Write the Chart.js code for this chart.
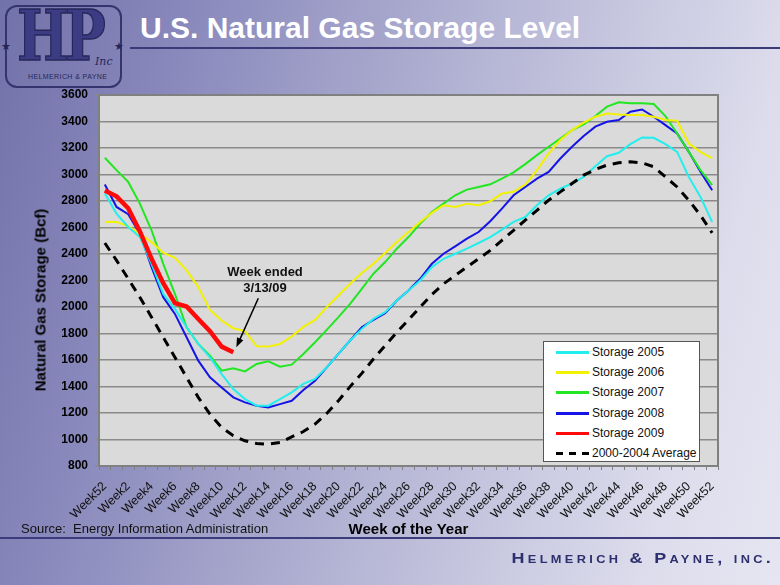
<!DOCTYPE html>
<html>
<head>
<meta charset="utf-8">
<script src="https://cdn.jsdelivr.net/npm/chart.js@4.4.1/dist/chart.umd.min.js"></script>
<style>
  html, body { margin: 0; padding: 0; }
  body {
    width: 780px; height: 585px; position: relative; overflow: hidden;
    font-family: "Liberation Sans", Arial, sans-serif;
    background: linear-gradient(105deg, #7272aa 0%, #8888bc 20%, #a6a6cc 42%, #c4c4de 65%, #dcdcec 85%, #e6e6f2 100%);
  }
  #chart { position: absolute; left: 0; top: 0; }
  .abs { position: absolute; white-space: pre; }
  #title { left: 140px; top: 13px; font-size: 30px; line-height: 1; font-weight: bold; color: #fff; }
  #titleLine { left: 130px; top: 47px; width: 650px; height: 2px; background: #3a3a78; }
  #footLine { left: 0; top: 537px; width: 780px; height: 2px; background: #3c3c7c; }
  #source { left: 21px; top: 521px; font-size: 13px; color: #111; }
  #company { right: 6px; top: 550px; font-size: 14px; font-weight: bold; font-variant: small-caps; letter-spacing: 2.6px;
             color: #2d2f6e; transform: scaleX(1.28); transform-origin: right center; }
  #yTitle { left: 40px; top: 300px; width: 0; height: 0; }
  #yTitle span { position: absolute; left: 0; top: 0; transform: translate(-50%, -50%) rotate(-90deg);
                 font-size: 15px; font-weight: bold; color: #000; white-space: pre; }
  #note { left: 215px; top: 264px; width: 100px; text-align: center; font-size: 13px; line-height: 16px; font-weight: bold; color: #111; }
  #legend { left: 543px; top: 341px; width: 155px; height: 119px; background: #fff; border: 1.5px solid #555; }
  .row { position: absolute; left: 12px; height: 20px; font-size: 12px; color: #111; }
  .swatch { position: absolute; left: 0; top: 9px; width: 33px; height: 3px; }
  .lbl { position: absolute; left: 36px; top: 3px; white-space: pre; }
  #logo { left: 5px; top: 5px; width: 113px; height: 79px; border: 2.5px solid #34346e; border-radius: 12px; }
  #logoHP { left: 17px; top: 1px; font-family: "DejaVu Serif", serif; font-weight: bold; font-size: 70px; line-height: 1;
            color: #3c3c84; -webkit-text-stroke: 1.5px #26265a; letter-spacing: -5px; transform: scaleX(0.78); transform-origin: left top; }
  #logoInc { left: 95px; top: 55px; font-family: "DejaVu Serif", serif; font-style: italic; font-size: 11px; color: #26265a; }
  #logoName { left: 28px; top: 73px; font-size: 7px; color: #26265a; letter-spacing: 0.4px; }
  .star { font-size: 11px; color: #26265a; top: 40px; }
</style>
</head>
<body>
<div id="logo" class="abs"></div>
<div id="logoHP" class="abs">HP</div>
<div id="logoInc" class="abs">Inc</div>
<div id="logoName" class="abs">HELMERICH &amp; PAYNE</div>
<div class="abs star" style="left:1px">★</div>
<div class="abs star" style="left:114px">★</div>
<div id="title" class="abs">U.S. Natural Gas Storage Level</div>
<div id="titleLine" class="abs"></div>
<canvas id="chart" width="780" height="585"></canvas>
<div id="yTitle" class="abs"><span>Natural Gas Storage (Bcf)</span></div>
<div id="note" class="abs">Week ended
3/13/09</div>
<div id="legend" class="abs"></div>
<div id="source" class="abs">Source:  Energy Information Administration</div>
<div id="footLine" class="abs"></div>
<div id="company" class="abs">Helmerich &amp; Payne, inc.</div>
<script>
// --- DATA ---
const weeks = ["Week52"];
for (let w = 1; w <= 52; w++) weeks.push("Week" + w);

const yTicks = [800, 1000, 1200, 1400, 1600, 1800, 2000, 2200, 2400, 2600, 2800, 3000, 3200, 3400, 3600];

const storage2005 = [2856, 2705, 2604, 2528, 2326, 2099, 1986, 1847, 1721, 1620, 1494, 1381, 1305, 1255, 1255, 1305, 1356, 1420,
    1457, 1545, 1646, 1747, 1835, 1910, 1961, 2049, 2124, 2200, 2301, 2364, 2402, 2440, 2483, 2528, 2584, 2642,
    2679, 2768, 2843, 2894, 2932, 2982, 3063, 3138, 3164, 3229, 3280, 3277, 3229, 3171, 2982, 2831, 2642];

const storage2006 = [2642, 2642, 2609, 2553, 2490, 2410, 2372, 2276, 2150, 1978, 1898, 1840, 1817, 1703, 1701, 1721, 1777, 1850,
    1903, 1999, 2087, 2175, 2256, 2326, 2407, 2490, 2566, 2642, 2710, 2768, 2755, 2780, 2768, 2798, 2856, 2869,
    2924, 3033, 3159, 3260, 3335, 3391, 3436, 3461, 3453, 3449, 3449, 3436, 3411, 3406, 3234, 3171, 3121];

const storage2007 = [3126, 3033, 2944, 2780, 2579, 2326, 2099, 1847, 1721, 1633, 1519, 1537, 1514, 1570, 1590, 1550, 1565, 1645,
    1734, 1827, 1923, 2024, 2137, 2251, 2339, 2440, 2528, 2629, 2717, 2780, 2843, 2886, 2906, 2926, 2969, 3016,
    3078, 3146, 3209, 3272, 3335, 3378, 3441, 3512, 3545, 3537, 3537, 3532, 3441, 3310, 3171, 3033, 2919];

const storage2008 = [2924, 2755, 2700, 2553, 2301, 2074, 1948, 1772, 1595, 1469, 1393, 1318, 1280, 1255, 1242, 1267, 1292, 1374,
    1444, 1545, 1646, 1747, 1847, 1903, 1953, 2049, 2124, 2213, 2326, 2402, 2458, 2516, 2566, 2647, 2743, 2843,
    2906, 2969, 3020, 3121, 3209, 3290, 3361, 3398, 3411, 3474, 3491, 3436, 3373, 3310, 3171, 3020, 2881];

const storage2009 = [2880, 2835, 2745, 2570, 2364, 2180, 2029, 2004, 1910, 1817, 1701, 1658];

const avg2000_2004 = [2483, 2352, 2213, 2074, 1923, 1772, 1620, 1469, 1318, 1192, 1091, 1028, 990, 970, 965, 977, 1020, 1060,
    1116, 1197, 1293, 1399, 1499, 1608, 1709, 1809, 1903, 1999, 2094, 2175, 2238, 2301, 2364, 2427, 2503, 2579,
    2655, 2730, 2806, 2869, 2932, 2995, 3038, 3071, 3088, 3096, 3088, 3058, 2982, 2906, 2806, 2692, 2559];

const seriesNames = ["Storage 2005", "Storage 2006", "Storage 2007", "Storage 2008", "Storage 2009", "2000-2004 Average"];
const seriesColors = ["#22eeee", "#f2f200", "#22e622", "#1414e6", "#ff0a0a", "#000000"];

// --- DATASETS ---
const FONT = "'Liberation Sans', Arial, sans-serif";
const allSeries = [storage2005, storage2006, storage2007, storage2008, storage2009, avg2000_2004];

const datasets = allSeries.map((values, i) => ({
    label: seriesNames[i],
    data: values,
    borderColor: seriesColors[i],
    backgroundColor: seriesColors[i],
    borderWidth: i === 4 ? 4.5 : (i === 5 ? 3 : 2),
    borderDash: i === 5 ? [9, 7] : [],
    pointRadius: 0,
    tension: 0,
    fill: false,
    order: i === 4 ? 0 : (i === 5 ? 1 : 2)
}));

// --- HTML LEGEND ---
const legendBox = document.getElementById("legend");
seriesNames.forEach((name, i) => {
    const row = document.createElement("div");
    row.className = "row";
    row.style.top = (i * 20.2) + "px";
    const sw = document.createElement("div");
    sw.className = "swatch";
    if (i === 5) {
        sw.style.background = "repeating-linear-gradient(90deg, #000 0 7px, transparent 7px 13px)";
    } else {
        sw.style.background = seriesColors[i];
    }
    const lbl = document.createElement("div");
    lbl.className = "lbl";
    lbl.textContent = name;
    row.appendChild(sw);
    row.appendChild(lbl);
    legendBox.appendChild(row);
});

// --- PLOT BACKGROUND, BORDER, ARROW ---
const plotDecor = {
    id: "plotDecor",
    beforeDraw(chart) {
        const { ctx, chartArea: a } = chart;
        ctx.save();
        ctx.fillStyle = "#dadada";
        ctx.fillRect(a.left, a.top, a.width, a.height);
        ctx.restore();
    },
    afterDraw(chart) {
        const { ctx, chartArea: a } = chart;
        ctx.save();
        ctx.strokeStyle = "#808080";
        ctx.lineWidth = 2;
        ctx.strokeRect(a.left, a.top, a.width, a.height);

        // arrow pointing at last 2009 value
        const meta = chart.getDatasetMeta(4);
        const pt = meta.data[storage2009.length - 1];
        const tip = { x: pt.x + 3, y: pt.y - 5 };
        const tail = { x: pt.x + 25, y: pt.y - 54 };
        const ang = Math.atan2(tip.y - tail.y, tip.x - tail.x);
        ctx.strokeStyle = "#000";
        ctx.fillStyle = "#000";
        ctx.lineWidth = 1.5;
        ctx.beginPath();
        ctx.moveTo(tail.x, tail.y);
        ctx.lineTo(tip.x - 6 * Math.cos(ang), tip.y - 6 * Math.sin(ang));
        ctx.stroke();
        ctx.beginPath();
        ctx.moveTo(tip.x, tip.y);
        ctx.lineTo(tip.x - 10 * Math.cos(ang - 0.35), tip.y - 10 * Math.sin(ang - 0.35));
        ctx.lineTo(tip.x - 10 * Math.cos(ang + 0.35), tip.y - 10 * Math.sin(ang + 0.35));
        ctx.closePath();
        ctx.fill();
        ctx.restore();
    }
};

// --- CHART ---
new Chart(document.getElementById("chart"), {
    type: "line",
    data: { labels: weeks, datasets: datasets },
    plugins: [plotDecor],
    options: {
        responsive: false,
        animation: false,
        devicePixelRatio: 1,
        layout: { padding: { top: 95, right: 62, left: 0, bottom: 0 } },
        plugins: {
            legend: { display: false },
            tooltip: { enabled: false }
        },
        scales: {
            x: {
                offset: true,
                grid: { display: true, offset: true, drawOnChartArea: false, drawTicks: true, tickLength: 4, color: "#808080" },
                border: { display: false },
                ticks: {
                    autoSkip: false,
                    maxRotation: 45,
                    minRotation: 45,
                    padding: 9,
                    color: "#111",
                    font: { family: FONT, size: 12.5 },
                    callback: (v, i) => (i % 2 === 0 ? weeks[i] : "")
                },
                title: {
                    display: true,
                    text: "Week of the Year",
                    color: "#000",
                    font: { family: FONT, size: 15, weight: "bold" },
                    padding: { top: 0, bottom: 46 }
                },
                afterFit: s => { s.height = 119; }
            },
            y: {
                min: 800,
                max: 3600,
                afterBuildTicks: s => { s.ticks = yTicks.map(v => ({ value: v })); },
                grid: { color: "#8a8a8a", lineWidth: 1.5, drawTicks: true, tickLength: 4 },
                border: { display: false },
                ticks: {
                    padding: 7,
                    color: "#000",
                    font: { family: FONT, size: 12, weight: "bold" },
                    callback: v => String(v)
                },
                afterFit: s => { s.width = 99; }
            }
        }
    }
});
</script>
</body>
</html>
